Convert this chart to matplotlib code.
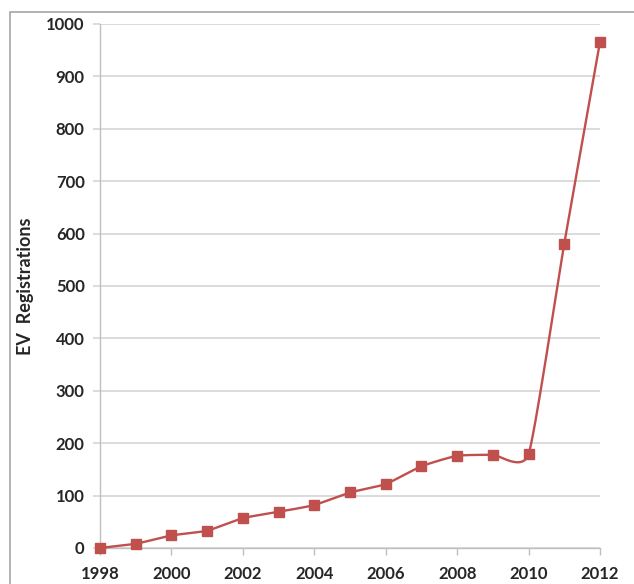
import numpy as np
import matplotlib
matplotlib.use("Agg")
import matplotlib.pyplot as plt
from matplotlib.patches import Rectangle

years = [1998, 1999, 2000, 2001, 2002, 2003, 2004, 2005, 2006, 2007, 2008, 2009, 2010, 2011, 2012]
registrations = [0, 8, 24, 33, 57, 69, 82, 106, 122, 156, 176, 178, 179, 581, 966]
year_ticks = [1998, 2000, 2002, 2004, 2006, 2008, 2010, 2012]
value_ticks = [0, 100, 200, 300, 400, 500, 600, 700, 800, 900, 1000]

LINE_RED = "#C0504D"
GRID = "#D9D9D9"
AXIS = "#BFBFBF"
TEXT = "#262626"


def smooth_curve(xs, ys, tension=0.085, steps=40):
    """Cubic Bezier smoothing through every point (cardinal-spline controls)."""
    pts = np.column_stack([xs, ys]).astype(float)
    n = len(pts)
    out = [pts[0]]
    t = np.linspace(0, 1, steps)[1:, None]
    for i in range(n - 1):
        p0 = pts[max(i - 1, 0)]
        p1 = pts[i]
        p2 = pts[i + 1]
        p3 = pts[min(i + 2, n - 1)]
        c1 = p1 + (p2 - p0) * tension
        c2 = p2 - (p3 - p1) * tension
        seg = ((1 - t) ** 3) * p1 + 3 * ((1 - t) ** 2) * t * c1 + 3 * (1 - t) * t ** 2 * c2 + t ** 3 * p2
        out.extend(seg)
    out = np.array(out)
    return out[:, 0], out[:, 1]


plt.rcParams["font.family"] = ["Lato", "DejaVu Sans"]

W, H = 634, 584
fig = plt.figure(figsize=(W / 100, H / 100), dpi=100)
fig.patch.set_facecolor("white")

# chart-area frame
fig.patches.append(Rectangle((10 / W, -0.05), 1.1, 1 - 12 / H + 0.05,
                             transform=fig.transFigure, fill=False,
                             edgecolor="#A6A6A6", linewidth=1.2))

ax = fig.add_axes([100 / W, 1 - 548 / H, 500 / W, 524 / H])
ax.set_xlim(1998, 2012)
ax.set_ylim(0, 1000)

sx, sy = smooth_curve(years, registrations)
ax.plot(sx, sy, color=LINE_RED, linewidth=1.7, zorder=3, clip_on=False)
ax.plot(years, registrations, linestyle="none", marker="s", markersize=6.8,
        markerfacecolor=LINE_RED, markeredgecolor=LINE_RED, zorder=4, clip_on=False)

ax.set_yticks(value_ticks)
ax.set_xticks(year_ticks)
ax.set_xticklabels([str(y) for y in year_ticks])
ax.set_yticklabels([str(v) for v in value_ticks])
ax.yaxis.grid(True, color=GRID, linewidth=1.3)
ax.set_axisbelow(True)

for side in ["top", "right"]:
    ax.spines[side].set_visible(False)
for side in ["left", "bottom"]:
    ax.spines[side].set_color(AXIS)
    ax.spines[side].set_linewidth(1.0)

ax.tick_params(axis="y", length=5, color=GRID, width=1.3, pad=6,
               labelsize=12, labelcolor=TEXT)
ax.tick_params(axis="x", length=5, color=AXIS, width=1.0, pad=8,
               labelsize=12, labelcolor=TEXT)
for lbl in ax.get_xticklabels() + ax.get_yticklabels():
    lbl.set_fontweight("bold")

fig.text(25 / W, 1 - 286 / H, "EV  Registrations", rotation=90,
         ha="center", va="center", fontsize=13, fontweight="bold", color=TEXT)

fig.savefig("out.png", dpi=100, facecolor="white")
